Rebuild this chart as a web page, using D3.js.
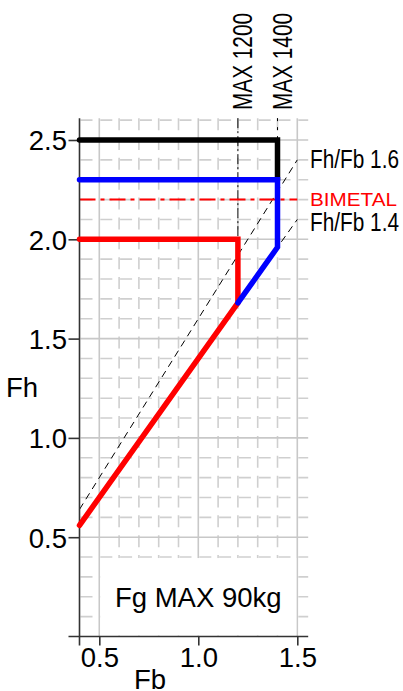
<!DOCTYPE html>
<html>
<head>
<meta charset="utf-8">
<script src="https://cdn.jsdelivr.net/npm/d3@7/dist/d3.min.js"></script>
<style>
  html, body { margin: 0; padding: 0; background: #fff; }
  svg { display: block; font-family: "Liberation Sans", Arial, sans-serif; }
</style>
</head>
<body>
<svg id="chart" width="403" height="691"></svg>
<script>
// ---- data ----
const xTicks = [0.5, 1.0, 1.5];
const yTicks = [0.5, 1.0, 1.5, 2.0, 2.5];
const ratioLines = [1.4, 1.6];               // Fh/Fb reference lines
const ratioLabels = ["Fh/Fb 1.4", "Fh/Fb 1.6"];
const maxFb = [1.2, 1.4];                    // vertical limits
const maxLabels = ["MAX 1200", "MAX 1400"];
const bimetal = 2.2;
const blackLine = [[0.4, 2.5], [1.4, 2.5], [1.4, 2.3]];
const blueLine  = [[0.4, 2.3], [1.4, 2.3], [1.4, 1.96], [1.2, 1.68]];
const redLine   = [[0.4, 0.56], [1.2, 1.68], [1.2, 2.0], [0.4, 2.0]];
const note = "Fg MAX 90kg";

// ---- scales ----
const x = d3.scaleLinear().domain([0.4, 1.5]).range([79.5, 297.3]);
const y = d3.scaleLinear().domain([0, 2.5]).range([636.5, 140]);
const xMin = 0.4, xMax = 1.555, yMin = 0, yMax = 2.61;

const svg = d3.select("#chart");
const grid = svg.append("g");

// minor / major grid
const xs = d3.range(5, 16).map(v => v / 10);
const ys = d3.range(1, 27).map(v => v / 10);
const isMajor = v => Math.abs(v * 2 - Math.round(v * 2)) < 1e-6;

xs.forEach(v => {
  const major = isMajor(v);
  grid.append("line")
    .attr("x1", x(v)).attr("x2", x(v))
    .attr("y1", y(yMax)).attr("y2", y(yMin))
    .attr("stroke", major ? "#c8c8c8" : "#cfcfcf")
    .attr("stroke-width", 1.6)
    .attr("stroke-dasharray", major ? null : "12,7.86");
});
ys.forEach(v => {
  const major = isMajor(v);
  grid.append("line")
    .attr("x1", x(xMin) + 1).attr("x2", x(xMax))
    .attr("y1", y(v)).attr("y2", y(v))
    .attr("stroke", major ? "#c8c8c8" : "#cfcfcf")
    .attr("stroke-width", 1.6)
    .attr("stroke-dasharray", major ? null : "12,7.8");
});

// white box for note
grid.append("rect")
  .attr("x", x(0.5) + 1).attr("y", y(0.4) + 1)
  .attr("width", x(1.5) - x(0.5) - 2).attr("height", y(0) - y(0.4) - 2)
  .attr("fill", "#fff");
svg.append("text")
  .attr("x", x(1.0)).attr("y", 607)
  .attr("text-anchor", "middle")
  .attr("font-size", 27.5)
  .text(note);

// ratio dashed lines
ratioLines.forEach((r, i) => {
  svg.append("line")
    .attr("x1", x(0.4)).attr("y1", y(0.4 * r))
    .attr("x2", x(1.5)).attr("y2", y(1.5 * r))
    .attr("stroke", "#000").attr("stroke-width", 1)
    .attr("stroke-dasharray", "7,5");
});
svg.append("text").attr("x", 310).attr("y", 167.5)
  .attr("font-size", 26).attr("textLength", 89).attr("lengthAdjust", "spacingAndGlyphs")
  .text(ratioLabels[1]);
svg.append("text").attr("x", 310).attr("y", 230.5)
  .attr("font-size", 26).attr("textLength", 89).attr("lengthAdjust", "spacingAndGlyphs")
  .text(ratioLabels[0]);

// MAX vertical lines
svg.append("line")
  .attr("x1", x(maxFb[0])).attr("x2", x(maxFb[0]))
  .attr("y1", y(yMax)).attr("y2", y(2.0))
  .attr("stroke", "#000").attr("stroke-width", 1)
  .attr("stroke-dasharray", "10,3,2,3");
svg.append("line")
  .attr("x1", x(maxFb[1])).attr("x2", x(maxFb[1]))
  .attr("y1", y(yMax)).attr("y2", y(2.5))
  .attr("stroke", "#000").attr("stroke-width", 1)
  .attr("stroke-dasharray", "3,6");
maxFb.forEach((v, i) => {
  svg.append("text")
    .attr("transform", `translate(${x(v) + 14.5},110) rotate(-90)`)
    .attr("font-size", 28).attr("textLength", 97).attr("lengthAdjust", "spacingAndGlyphs")
    .text(maxLabels[i]);
});

// bimetal
svg.append("line")
  .attr("x1", x(0.4)).attr("x2", x(1.5))
  .attr("y1", y(bimetal)).attr("y2", y(bimetal))
  .attr("stroke", "#ff0000").attr("stroke-width", 2)
  .attr("stroke-dasharray", "16,5,4,5");
svg.append("text").attr("x", 310).attr("y", 206)
  .attr("font-size", 18.5).attr("fill", "#ff0000")
  .attr("textLength", 87).attr("lengthAdjust", "spacingAndGlyphs")
  .text("BIMETAL");

// axes
const axisColor = "#333";
svg.append("line").attr("x1", x(0.4)).attr("x2", x(0.4))
  .attr("y1", y(yMax)).attr("y2", y(0) + 9)
  .attr("stroke", axisColor).attr("stroke-width", 1.6);
svg.append("line").attr("x1", x(0.4) - 11).attr("x2", x(xMax))
  .attr("y1", y(0)).attr("y2", y(0))
  .attr("stroke", axisColor).attr("stroke-width", 1.6);

const yAxis = d3.axisLeft(y).tickValues(yTicks).tickSize(11).tickPadding(1.5)
  .tickFormat(d3.format(".1f"));
const gy = svg.append("g").attr("transform", `translate(${x(0.4)},0)`).call(yAxis);
gy.select(".domain").remove();
gy.selectAll("line").attr("stroke", axisColor).attr("stroke-width", 1.6);
gy.selectAll("text").attr("font-size", 27.5).attr("fill", "#000")
  .attr("font-family", "'Liberation Sans', Arial, sans-serif").attr("dy", "0.36em");

const xAxis = d3.axisBottom(x).tickValues(xTicks).tickSize(9).tickPadding(1.5)
  .tickFormat(d3.format(".1f"));
const gx = svg.append("g").attr("transform", `translate(0,${y(0)})`).call(xAxis);
gx.select(".domain").remove();
gx.selectAll("line").attr("stroke", axisColor).attr("stroke-width", 1.6);
gx.selectAll("text").attr("font-size", 27.5).attr("fill", "#000")
  .attr("font-family", "'Liberation Sans', Arial, sans-serif");

svg.append("text").attr("x", 6).attr("y", 397).attr("font-size", 27.5).text("Fh");
svg.append("text").attr("x", 134).attr("y", 688.5).attr("font-size", 27.5).text("Fb");

// main lines
const line = d3.line().x(d => x(d[0])).y(d => y(d[1]));
[[redLine, "#ff0000"], [blackLine, "#000000"], [blueLine, "#0000ff"]].forEach(([data, c]) => {
  svg.append("path").attr("d", line(data))
    .attr("fill", "none").attr("stroke", c).attr("stroke-width", 5.5)
    .attr("stroke-linecap", "round").attr("stroke-linejoin", "miter");
});
</script>
</body>
</html>
